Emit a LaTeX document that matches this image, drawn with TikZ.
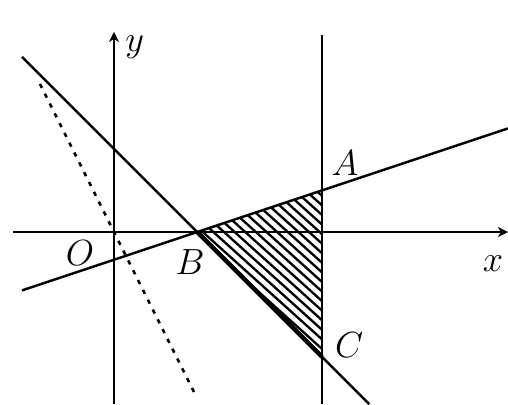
\documentclass[tikz,border=0pt]{standalone}
\usetikzlibrary{arrows.meta}
\begin{document}
\begin{tikzpicture}[>=Stealth,
  ax/.style={line width=1.7pt},
  bnd/.style={line width=1.7pt},
  hatch/.style={line width=1.6pt},
  lbl/.style={font=\Huge, inner sep=0pt}]
\useasboundingbox (-2.74,-4.135) rectangle (9.47,5.577);
% points of the region
\coordinate (O) at (0,0);
\coordinate (B) at (2,0);
\coordinate (A) at (5,1);
\coordinate (C) at (5,-3);
% ends of the lines
\coordinate (xs) at (-2.43,0);
\coordinate (xe) at (9.47,0);
\coordinate (ys) at (0,-4.135);
\coordinate (ye) at (0,4.81);
\coordinate (vs) at (5,-4.135);
\coordinate (ve) at (5,4.74);
\coordinate (ls) at (-2.21,-1.403);
\coordinate (le) at (9.47,2.49);
\coordinate (ms) at (-2.21,4.21);
\coordinate (me) at (6.135,-4.135);
\coordinate (ds) at (-1.78,3.56);
\coordinate (de) at (1.96,-3.92);
% shaded triangle
\begin{scope}
  \clip (B) -- (A) -- (C) -- cycle;
  \foreach \c in {1.0,1.23,...,6}
    \draw[hatch] (0,\c) -- (7,\c-6.3);
\end{scope}
% axes
\draw[ax, -{Stealth[length=7pt,width=7pt]}] (xs) -- (xe);
\draw[ax, -{Stealth[length=7pt,width=7pt]}] (ys) -- (ye);
% lines
\draw[bnd] (vs) -- (ve);
\draw[bnd] (ls) -- (le);
\draw[bnd] (ms) -- (me);
\draw[line width=3pt] (B) -- (C);
\draw[line width=1.8pt, dash pattern=on 3pt off 4.5pt] (ds) -- (de);
% labels
\node[lbl] (lO) at (-0.82,-0.5) {$O$};
\node[lbl] (lB) at (1.83,-0.72) {$B$};
\node[lbl] (lA) at (5.55,1.66) {$A$};
\node[lbl] (lC) at (5.65,-2.72) {$C$};
\node[lbl] (lx) at (9.11,-0.75) {$x$};
\node[lbl] (ly) at (0.5,4.45) {$y$};
\end{tikzpicture}
\end{document}
